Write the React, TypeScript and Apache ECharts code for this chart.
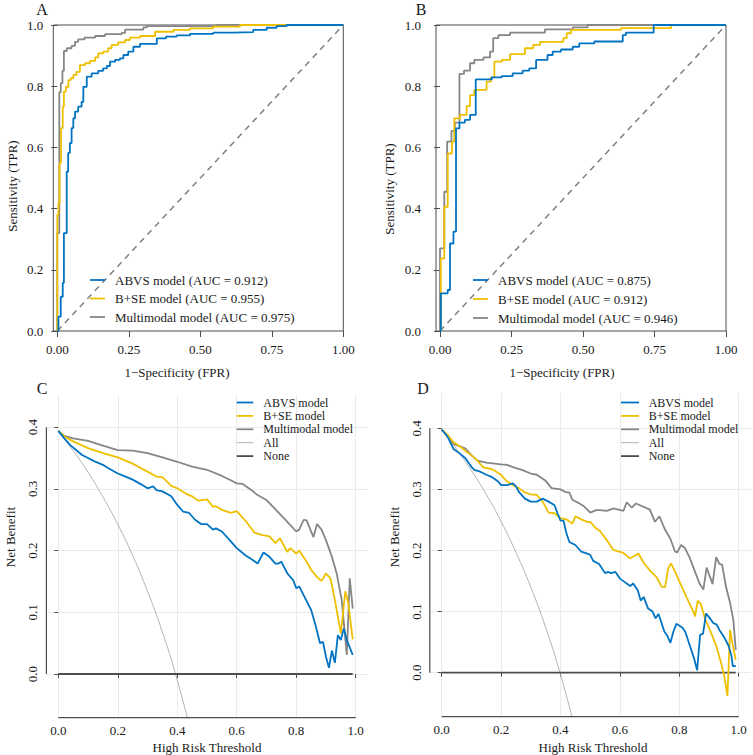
import React, { useEffect, useRef } from "react";
import * as echarts from "echarts";

const FONT = "Liberation Serif";
const BLUE = "#0073C2";
const YELLOW = "#EFC000";
const GRAY = "#868686";
const ALLC = "#b3b3b3";
const NONEC = "#4d4d4d";

const rocTicksX = [0, 0.25, 0.5, 0.75, 1];
const rocTicksY = [0, 0.2, 0.4, 0.6, 0.8, 1];
const dcaTicksX = [0, 0.2, 0.4, 0.6, 0.8, 1];
const dcaTicksY = [0, 0.1, 0.2, 0.3, 0.4];

const legendA = ["ABVS model (AUC = 0.912)", "B+SE model (AUC = 0.955)", "Multimodal model (AUC = 0.975)"];
const legendB = ["ABVS model (AUC = 0.875)", "B+SE model (AUC = 0.912)", "Multimodal model (AUC = 0.946)"];
const dcaNames = ["ABVS model", "B+SE model", "Multimodal model", "All", "None"];

const diagonal = [[0, 0], [1, 1]];

// ROC A (fpr, tpr) — step corners
const rocA_abvs = [[0, 0], [0.004, 0.047], [0.012, 0.112], [0.019, 0.157], [0.023, 0.32], [0.033, 0.521], [0.038, 0.582], [0.044, 0.614], [0.05, 0.663], [0.056, 0.695], [0.062, 0.717], [0.073, 0.733], [0.085, 0.749], [0.091, 0.798], [0.103, 0.831], [0.12, 0.842], [0.143, 0.85], [0.16, 0.858], [0.173, 0.866], [0.184, 0.88], [0.202, 0.886], [0.219, 0.891], [0.231, 0.902], [0.248, 0.913], [0.266, 0.929], [0.289, 0.938], [0.348, 0.956], [0.38, 0.962], [0.417, 0.966], [0.464, 0.971], [0.545, 0.975], [0.615, 0.977], [0.685, 0.984], [0.732, 0.991], [0.767, 0.996], [0.802, 1.0], [1, 1]];
const rocA_bse = [[0, 0], [0, 0.38], [0.004, 0.42], [0.008, 0.55], [0.013, 0.663], [0.019, 0.733], [0.023, 0.782], [0.03, 0.798], [0.039, 0.82], [0.047, 0.826], [0.056, 0.837], [0.067, 0.847], [0.079, 0.869], [0.097, 0.875], [0.114, 0.883], [0.132, 0.894], [0.143, 0.907], [0.161, 0.913], [0.178, 0.924], [0.19, 0.935], [0.213, 0.943], [0.237, 0.951], [0.254, 0.959], [0.289, 0.964], [0.342, 0.978], [0.406, 0.984], [0.464, 0.989], [0.545, 0.995], [0.639, 1.0], [1, 1]];
const rocA_multi = [[0, 0], [0, 0.32], [0.007, 0.78], [0.012, 0.81], [0.018, 0.85], [0.023, 0.915], [0.033, 0.924], [0.05, 0.932], [0.062, 0.945], [0.073, 0.953], [0.095, 0.959], [0.132, 0.964], [0.167, 0.97], [0.225, 0.974], [0.237, 0.985], [0.301, 0.992], [0.313, 0.996], [0.557, 1.0], [1, 1]];

// ROC B
const rocB_abvs = [[0, 0], [0.003, 0.123], [0.027, 0.134], [0.035, 0.286], [0.047, 0.325], [0.056, 0.662], [0.068, 0.681], [0.087, 0.69], [0.105, 0.706], [0.125, 0.822], [0.181, 0.829], [0.216, 0.833], [0.254, 0.842], [0.289, 0.851], [0.312, 0.858], [0.336, 0.886], [0.376, 0.902], [0.394, 0.913], [0.423, 0.92], [0.464, 0.929], [0.487, 0.94], [0.54, 0.946], [0.639, 0.967], [0.65, 0.975], [0.747, 1.0], [1, 1]];
const rocB_bse = [[0, 0], [0.003, 0.237], [0.015, 0.406], [0.027, 0.58], [0.042, 0.619], [0.05, 0.695], [0.07, 0.706], [0.093, 0.735], [0.105, 0.771], [0.12, 0.788], [0.163, 0.815], [0.178, 0.829], [0.19, 0.88], [0.216, 0.886], [0.245, 0.905], [0.297, 0.924], [0.326, 0.935], [0.35, 0.945], [0.431, 0.957], [0.443, 0.973], [0.458, 0.984], [0.633, 0.99], [0.808, 1.0], [1, 1]];
const rocB_multi = [[0, 0], [0, 0.27], [0.015, 0.455], [0.025, 0.619], [0.04, 0.654], [0.052, 0.681], [0.068, 0.84], [0.084, 0.851], [0.105, 0.875], [0.12, 0.886], [0.152, 0.894], [0.175, 0.913], [0.186, 0.957], [0.204, 0.967], [0.245, 0.975], [0.367, 0.986], [0.464, 0.992], [0.516, 1.0], [1, 1]];

// DCA C (threshold, net benefit)
const dcaC_abvs = [[0, 0.394], [0.02, 0.382], [0.04, 0.371], [0.06, 0.363], [0.08, 0.355], [0.1, 0.35], [0.12, 0.345], [0.15, 0.339], [0.17, 0.333], [0.2, 0.325], [0.22, 0.321], [0.25, 0.315], [0.28, 0.307], [0.3, 0.301], [0.32, 0.304], [0.33, 0.298], [0.35, 0.296], [0.38, 0.288], [0.4, 0.274], [0.42, 0.263], [0.44, 0.261], [0.46, 0.25], [0.48, 0.243], [0.5, 0.243], [0.52, 0.234], [0.53, 0.236], [0.55, 0.231], [0.58, 0.215], [0.6, 0.204], [0.63, 0.192], [0.65, 0.186], [0.67, 0.179], [0.69, 0.197], [0.71, 0.19], [0.73, 0.179], [0.74, 0.179], [0.75, 0.182], [0.77, 0.163], [0.79, 0.152], [0.8, 0.139], [0.81, 0.142], [0.83, 0.123], [0.85, 0.104], [0.865, 0.079], [0.88, 0.05], [0.89, 0.052], [0.9, 0.028], [0.91, 0.01], [0.92, 0.038], [0.93, 0.018], [0.94, 0.063], [0.95, 0.055], [0.96, 0.074], [0.97, 0.055], [0.99, 0.031]];
const dcaC_bse = [[0, 0.394], [0.02, 0.385], [0.05, 0.377], [0.1, 0.366], [0.15, 0.358], [0.2, 0.351], [0.25, 0.341], [0.28, 0.333], [0.3, 0.328], [0.33, 0.32], [0.35, 0.319], [0.38, 0.305], [0.4, 0.301], [0.43, 0.292], [0.45, 0.288], [0.47, 0.281], [0.5, 0.283], [0.52, 0.271], [0.53, 0.272], [0.55, 0.266], [0.58, 0.261], [0.6, 0.264], [0.63, 0.248], [0.66, 0.229], [0.68, 0.226], [0.71, 0.223], [0.73, 0.212], [0.745, 0.22], [0.77, 0.198], [0.78, 0.204], [0.8, 0.195], [0.81, 0.2], [0.835, 0.182], [0.85, 0.169], [0.87, 0.157], [0.885, 0.151], [0.9, 0.163], [0.915, 0.155], [0.93, 0.12], [0.95, 0.066], [0.965, 0.134], [0.975, 0.115], [0.99, 0.056]];
const dcaC_multi = [[0, 0.394], [0.02, 0.386], [0.05, 0.382], [0.1, 0.378], [0.15, 0.37], [0.2, 0.363], [0.25, 0.362], [0.3, 0.358], [0.35, 0.351], [0.4, 0.344], [0.45, 0.336], [0.5, 0.331], [0.55, 0.321], [0.58, 0.314], [0.6, 0.309], [0.62, 0.308], [0.65, 0.298], [0.67, 0.29], [0.7, 0.282], [0.71, 0.277], [0.76, 0.252], [0.8, 0.231], [0.81, 0.234], [0.825, 0.25], [0.835, 0.249], [0.858, 0.222], [0.87, 0.243], [0.885, 0.234], [0.9, 0.217], [0.92, 0.19], [0.936, 0.163], [0.953, 0.12], [0.97, 0.031], [0.98, 0.155], [0.99, 0.106]];
const dcaC_all = [[0, 0.394], [0.05, 0.362], [0.1, 0.327], [0.15, 0.287], [0.2, 0.2425], [0.25, 0.192], [0.3, 0.134], [0.35, 0.068], [0.4, -0.01], [0.45, -0.102]];
const dcaC_none = [[0, 0], [0.99, 0]];

// DCA D
const dcaD_abvs = [[0, 0.398], [0.02, 0.386], [0.04, 0.366], [0.06, 0.359], [0.08, 0.351], [0.1, 0.337], [0.11, 0.332], [0.13, 0.329], [0.15, 0.324], [0.17, 0.32], [0.19, 0.313], [0.2, 0.307], [0.22, 0.307], [0.24, 0.31], [0.25, 0.305], [0.26, 0.296], [0.28, 0.285], [0.3, 0.28], [0.32, 0.28], [0.34, 0.285], [0.36, 0.28], [0.38, 0.274], [0.39, 0.261], [0.4, 0.249], [0.41, 0.249], [0.42, 0.228], [0.43, 0.214], [0.45, 0.209], [0.47, 0.198], [0.49, 0.195], [0.5, 0.193], [0.51, 0.183], [0.53, 0.178], [0.55, 0.163], [0.56, 0.165], [0.57, 0.163], [0.585, 0.165], [0.6, 0.154], [0.62, 0.147], [0.635, 0.142], [0.645, 0.146], [0.66, 0.135], [0.67, 0.118], [0.68, 0.124], [0.695, 0.105], [0.71, 0.1], [0.72, 0.089], [0.73, 0.096], [0.75, 0.067], [0.76, 0.06], [0.77, 0.049], [0.78, 0.067], [0.79, 0.08], [0.81, 0.074], [0.82, 0.067], [0.835, 0.045], [0.85, 0.023], [0.86, 0.004], [0.87, 0.062], [0.88, 0.064], [0.89, 0.097], [0.9, 0.091], [0.915, 0.081], [0.925, 0.079], [0.935, 0.07], [0.95, 0.059], [0.965, 0.045], [0.975, 0.029], [0.98, 0.011], [0.99, 0.011]];
const dcaD_bse = [[0, 0.398], [0.02, 0.389], [0.04, 0.377], [0.06, 0.371], [0.08, 0.363], [0.1, 0.356], [0.12, 0.347], [0.14, 0.336], [0.17, 0.333], [0.2, 0.324], [0.21, 0.318], [0.22, 0.313], [0.24, 0.307], [0.26, 0.302], [0.28, 0.295], [0.3, 0.292], [0.32, 0.291], [0.34, 0.28], [0.36, 0.262], [0.38, 0.261], [0.4, 0.253], [0.42, 0.251], [0.44, 0.244], [0.45, 0.256], [0.47, 0.251], [0.49, 0.247], [0.5, 0.247], [0.52, 0.236], [0.533, 0.232], [0.556, 0.217], [0.578, 0.201], [0.612, 0.196], [0.634, 0.187], [0.662, 0.195], [0.68, 0.18], [0.7, 0.168], [0.724, 0.156], [0.74, 0.141], [0.752, 0.14], [0.763, 0.171], [0.772, 0.179], [0.786, 0.165], [0.808, 0.141], [0.825, 0.123], [0.847, 0.1], [0.853, 0.092], [0.862, 0.118], [0.873, 0.112], [0.886, 0.089], [0.903, 0.07], [0.925, 0.043], [0.941, 0.015], [0.952, -0.007], [0.962, -0.038], [0.971, 0.07], [0.98, 0.045], [0.99, 0.021]];
const dcaD_multi = [[0, 0.398], [0.02, 0.389], [0.04, 0.374], [0.06, 0.371], [0.08, 0.367], [0.1, 0.356], [0.12, 0.347], [0.15, 0.344], [0.2, 0.341], [0.22, 0.34], [0.25, 0.335], [0.27, 0.332], [0.3, 0.326], [0.32, 0.324], [0.35, 0.314], [0.37, 0.302], [0.4, 0.3], [0.42, 0.295], [0.43, 0.295], [0.44, 0.283], [0.46, 0.278], [0.48, 0.272], [0.5, 0.262], [0.52, 0.266], [0.533, 0.266], [0.556, 0.265], [0.578, 0.269], [0.612, 0.265], [0.623, 0.279], [0.64, 0.27], [0.654, 0.277], [0.701, 0.267], [0.718, 0.247], [0.733, 0.256], [0.752, 0.234], [0.769, 0.22], [0.786, 0.198], [0.793, 0.197], [0.806, 0.209], [0.819, 0.204], [0.836, 0.187], [0.853, 0.165], [0.868, 0.146], [0.881, 0.136], [0.892, 0.172], [0.912, 0.145], [0.924, 0.189], [0.935, 0.178], [0.944, 0.177], [0.957, 0.141], [0.971, 0.114], [0.982, 0.086], [0.99, 0.037]];
const dcaD_all = [[0, 0.398], [0.05, 0.366], [0.1, 0.331], [0.15, 0.292], [0.2, 0.2475], [0.25, 0.197], [0.3, 0.14], [0.35, 0.074], [0.4, -0.003], [0.45, -0.094]];
const dcaD_none = [[0, 0], [0.99, 0]];

const txt = { fontFamily: FONT, fontSize: 13, color: "#1a1a1a" };

function rocAxes(gi: number, labelMargin: number) {
  const x = {
    gridIndex: gi, type: "value", min: -0.014, max: 1,
    axisLine: { show: false },
    axisTick: { show: true, customValues: rocTicksX, length: 6, lineStyle: { color: "#4d4d4d" } },
    axisLabel: { ...txt, customValues: rocTicksX, margin: 12, formatter: (v: number) => v.toFixed(2) },
    splitLine: { show: false },
  };
  const y = {
    gridIndex: gi, type: "value", min: 0, max: 1,
    axisLine: { show: false },
    axisTick: { show: true, customValues: rocTicksY, length: 6, lineStyle: { color: "#4d4d4d" } },
    axisLabel: { ...txt, customValues: rocTicksY, margin: labelMargin, formatter: (v: number) => v.toFixed(1) },
    splitLine: { show: false },
  };
  return { x, y };
}

function dcaAxes(gi: number, ymin: number, ymax: number) {
  const x = {
    gridIndex: gi, type: "value", min: -0.04, max: 1.04,
    axisLine: { show: false },
    axisTick: { show: true, customValues: dcaTicksX, length: 4, lineStyle: { color: "#4d4d4d" } },
    axisLabel: { ...txt, customValues: dcaTicksX, margin: 6, formatter: (v: number) => v.toFixed(1) },
    splitLine: { show: true, lineStyle: { color: "#ebebeb", width: 1 } },
  };
  const y = {
    gridIndex: gi, type: "value", min: ymin, max: ymax,
    axisLine: { show: false },
    axisTick: { show: true, customValues: dcaTicksY, length: 4, lineStyle: { color: "#4d4d4d" } },
    axisLabel: { ...txt, customValues: dcaTicksY, margin: 7, rotate: 90, formatter: (v: number) => v.toFixed(1) },
    splitLine: { show: true, lineStyle: { color: "#ebebeb", width: 1 } },
  };
  return { x, y };
}

function rocSeries(gi: number, name: string, data: number[][], color: string) {
  return {
    type: "line", name, xAxisIndex: gi, yAxisIndex: gi, data, step: "end",
    showSymbol: false, symbol: "none", clip: false,
    lineStyle: { color, width: 1.8 }, itemStyle: { color }, z: 3,
  };
}

function dcaSeries(gi: number, name: string, data: number[][], color: string, width: number, smooth = false) {
  return {
    type: "line", name, xAxisIndex: gi, yAxisIndex: gi, data, smooth,
    showSymbol: false, symbol: "none", clip: true,
    lineStyle: { color, width }, itemStyle: { color }, z: 3,
  };
}

function legendBlock(x0: number, x1: number, tx: number, ys: number[], names: string[], colors: string[], widths: number[], size: number) {
  const els: any[] = [];
  names.forEach((n, i) => {
    els.push({ type: "line", shape: { x1: x0, y1: ys[i], x2: x1, y2: ys[i] }, style: { stroke: colors[i], lineWidth: widths[i] }, z: 10 });
    els.push({ type: "text", x: tx, y: ys[i], style: { text: n, fontFamily: FONT, fontSize: size, lineHeight: size, fill: "#1a1a1a", textAlign: "left", textVerticalAlign: "middle" }, z: 10 });
  });
  return els;
}

function label(text: string, x: number, y: number, size: number, rot = 0) {
  return {
    type: "text", x, y, rotation: rot,
    style: { text, fontFamily: FONT, fontSize: size, fill: "#1a1a1a", textAlign: "center", textVerticalAlign: "middle" },
    z: 10,
  };
}

export default function App() {
  const ref = useRef<HTMLDivElement>(null);
  useEffect(() => {
    if (!ref.current) return;
    const chart = echarts.init(ref.current, undefined, { renderer: "svg" });
    const a = rocAxes(0, 10);
    const b = rocAxes(1, 15);
    const c = dcaAxes(2, -0.0708, 0.4522);
    const d = dcaAxes(3, -0.072, 0.4578);
    const frame = { show: true, borderColor: "#4d4d4d", borderWidth: 1, backgroundColor: "transparent" };
    const option: any = {
      animation: false,
      backgroundColor: "#ffffff",
      grid: [
        { left: 53.3, top: 25, width: 290, height: 306, ...frame },
        { left: 436, top: 25, width: 290, height: 306, ...frame },
        { left: 46.4, top: 395, width: 321.2, height: 322.7, show: false },
        { left: 429.8, top: 393, width: 320.8, height: 323.7, show: false },
      ],
      xAxis: [a.x, b.x, c.x, d.x],
      yAxis: [a.y, b.y, c.y, d.y],
      series: [
        { type: "line", name: "refA", xAxisIndex: 0, yAxisIndex: 0, data: diagonal, showSymbol: false, symbol: "none", clip: false, lineStyle: { color: "#808080", width: 1.5, type: [6, 5] }, z: 2 },
        rocSeries(0, legendA[2], rocA_multi, GRAY),
        rocSeries(0, legendA[1], rocA_bse, YELLOW),
        rocSeries(0, legendA[0], rocA_abvs, BLUE),
        { type: "line", name: "refB", xAxisIndex: 1, yAxisIndex: 1, data: diagonal, showSymbol: false, symbol: "none", clip: false, lineStyle: { color: "#808080", width: 1.5, type: [6, 5] }, z: 2 },
        rocSeries(1, legendB[2], rocB_multi, GRAY),
        rocSeries(1, legendB[1], rocB_bse, YELLOW),
        rocSeries(1, legendB[0], rocB_abvs, BLUE),
        dcaSeries(2, "C " + dcaNames[3], dcaC_all, ALLC, 1, true),
        dcaSeries(2, "C " + dcaNames[4], dcaC_none, NONEC, 1.8),
        dcaSeries(2, "C " + dcaNames[2], dcaC_multi, GRAY, 1.8),
        dcaSeries(2, "C " + dcaNames[1], dcaC_bse, YELLOW, 1.8),
        dcaSeries(2, "C " + dcaNames[0], dcaC_abvs, BLUE, 1.8),
        dcaSeries(3, "D " + dcaNames[3], dcaD_all, ALLC, 1, true),
        dcaSeries(3, "D " + dcaNames[4], dcaD_none, NONEC, 1.8),
        dcaSeries(3, "D " + dcaNames[2], dcaD_multi, GRAY, 1.8),
        dcaSeries(3, "D " + dcaNames[1], dcaD_bse, YELLOW, 1.8),
        dcaSeries(3, "D " + dcaNames[0], dcaD_abvs, BLUE, 1.8),
      ],
    };
    chart.setOption(option);

    // axis lines of the decision-curve panels, spanning the first to last tick
    const axisEls: any[] = [];
    [2, 3].forEach((gi) => {
      const ymin = gi === 2 ? -0.0708 : -0.072;
      const p0 = chart.convertToPixel({ gridIndex: gi } as any, [dcaTicksX[0], ymin]) as number[];
      const p1 = chart.convertToPixel({ gridIndex: gi } as any, [dcaTicksX[dcaTicksX.length - 1], ymin]) as number[];
      const q0 = chart.convertToPixel({ gridIndex: gi } as any, [-0.04, dcaTicksY[0]]) as number[];
      const q1 = chart.convertToPixel({ gridIndex: gi } as any, [-0.04, dcaTicksY[dcaTicksY.length - 1]]) as number[];
      axisEls.push({ type: "line", shape: { x1: p0[0], y1: p0[1], x2: p1[0], y2: p1[1] }, style: { stroke: "#4d4d4d", lineWidth: 1.2 }, z: 5 });
      axisEls.push({ type: "line", shape: { x1: q0[0], y1: q0[1], x2: q1[0], y2: q1[1] }, style: { stroke: "#4d4d4d", lineWidth: 1.2 }, z: 5 });
    });

    const modelColors = [BLUE, YELLOW, GRAY];
    const dcaColors = [BLUE, YELLOW, GRAY, ALLC, NONEC];
    const dcaRowsC = [402.5, 415.9, 429.3, 442.7, 456.1];
    const dcaRowsD = [402.5, 415.9, 429.3, 442.7, 456.1];
    const elements: any[] = [
      ...axisEls,
      label("A", 42, 9, 16),
      label("B", 421, 9, 16),
      label("C", 42, 388, 16),
      label("D", 423, 388, 16),
      label("Sensitivity (TPR)", 12, 186, 13, Math.PI / 2),
      label("Sensitivity (TPR)", 389, 189, 13, Math.PI / 2),
      label("1\u2212Specificity (FPR)", 177, 372, 13),
      label("1\u2212Specificity (FPR)", 562, 372, 13),
      label("Net Benefit", 10, 537, 13, Math.PI / 2),
      label("Net Benefit", 394, 537, 13, Math.PI / 2),
      label("High Risk Threshold", 207, 747, 13),
      label("High Risk Threshold", 593, 747, 13),
      ...legendBlock(90, 105, 115, [280, 298.5, 317], legendA, modelColors, [1.8, 1.8, 1.8], 13),
      ...legendBlock(473, 488, 498, [280, 299, 318], legendB, modelColors, [1.8, 1.8, 1.8], 13),
      ...legendBlock(236.7, 253.3, 263.3, dcaRowsC, dcaNames, dcaColors, [1.8, 1.8, 1.8, 1, 1.8], 12),
      ...legendBlock(621, 639, 648.7, dcaRowsD, dcaNames, dcaColors, [1.8, 1.8, 1.8, 1, 1.8], 12),
    ];
    chart.setOption({ graphic: { elements } });

    return () => chart.dispose();
  }, []);
  return (
    <div style={{ position: "fixed", left: 0, top: 0, width: 753, height: 755, background: "#fff" }}>
      <div ref={ref} style={{ width: 753, height: 755 }} />
    </div>
  );
}
